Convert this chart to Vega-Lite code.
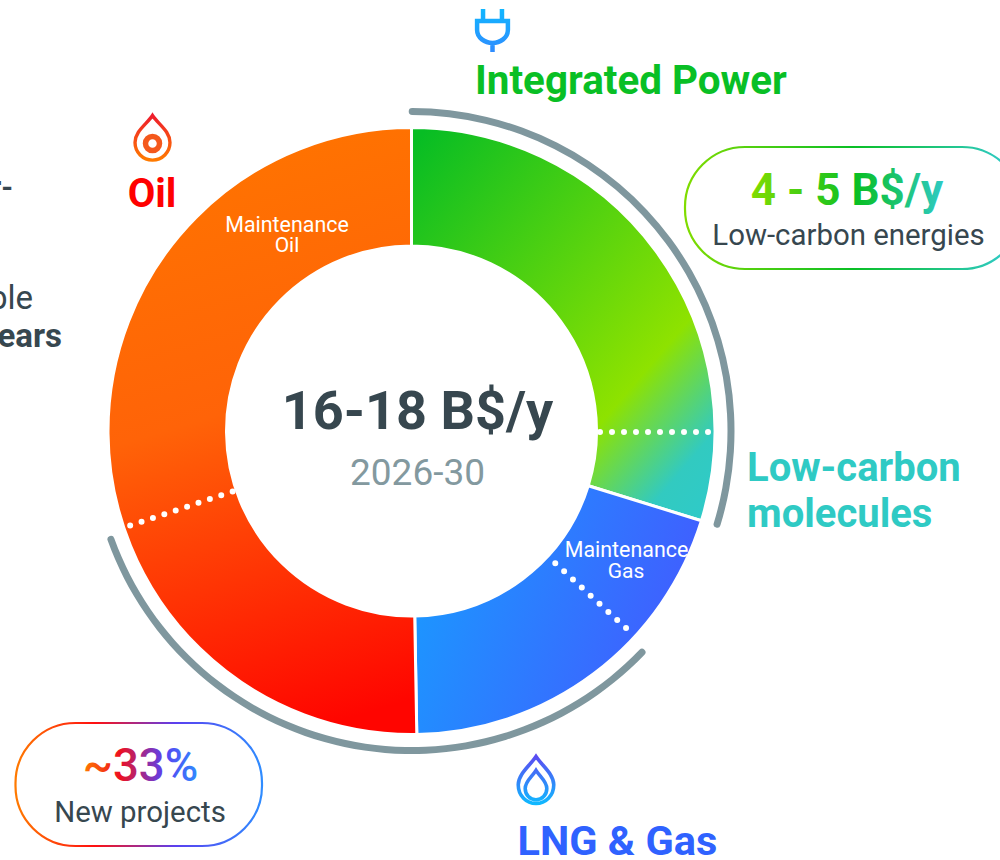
{
"$schema":"https://vega.github.io/schema/vega-lite/v6.json",
"width":1000,"height":860,"padding":0,"autosize":{"type":"none"},
"background":"white",
"view":{"stroke":null},
"config":{"axis":{"disable":true},"text":{"font":"Roboto"},"legend":{"disable":true}},
"datasets":{
"segments":[{"segment":"Low-carbon","start":0,"end":107.2},{"segment":"LNG & Gas","start":107.2,"end":179},{"segment":"Oil","start":179,"end":360}],
"splits":[{"name":"Low-carbon molecules","angle":90},{"name":"Oil maintenance","angle":251.6}],
"brackets":[{"name":"Low-carbon energies","start":-0.5,"end":107.6},{"name":"New projects","start":133.2,"end":250.8}]
},
"layer":[
{"data":{"name":"segments"},"transform":[{"filter":"datum.segment==='Low-carbon'"}],
 "mark":{"type":"arc","radius":303.5,"radius2":185,"stroke":"white","strokeWidth":3,"fill":{"gradient":"linear","x1":0.05,"y1":0,"x2":0.95,"y2":1,"stops":[{"offset":0,"color":"#07bd24"},{"offset":0.7,"color":"#8ee200"},{"offset":0.9,"color":"#32cac0"},{"offset":1,"color":"#2fcac8"}]}},
 "encoding":{"x":{"datum":411.5,"scale":{"domain":[0,1000],"range":[0,1000],"nice":false,"zero":false}},"y":{"datum":431,"scale":{"domain":[0,860],"range":[0,860],"nice":false,"zero":false}},"theta":{"field":"start","type":"quantitative","scale":{"domain":[0,360]}},"theta2":{"field":"end"}}},
{"data":{"name":"segments"},"transform":[{"filter":"datum.segment==='LNG & Gas'"}],
 "mark":{"type":"arc","radius":303.5,"radius2":185,"stroke":"white","strokeWidth":3,"fill":{"gradient":"linear","x1":0,"y1":0.35,"x2":1,"y2":0.65,"stops":[{"offset":0,"color":"#1b98ff"},{"offset":1,"color":"#4458ff"}]}},
 "encoding":{"x":{"datum":411.5},"y":{"datum":431},"theta":{"field":"start","type":"quantitative"},"theta2":{"field":"end"}}},
{"data":{"name":"segments"},"transform":[{"filter":"datum.segment==='Oil'"}],
 "mark":{"type":"arc","radius":303.5,"radius2":185,"stroke":"white","strokeWidth":3,"fill":{"gradient":"linear","x1":0.45,"y1":0,"x2":0.6,"y2":1,"stops":[{"offset":0,"color":"#ff7400"},{"offset":0.45,"color":"#ff6308"},{"offset":1,"color":"#ff0500"}]}},
 "encoding":{"x":{"datum":411.5},"y":{"datum":431},"theta":{"field":"start","type":"quantitative"},"theta2":{"field":"end"}}},
{"data":{"name":"splits"},
 "mark":{"type":"arc","radius":296.5,"radius2":188.5,"stroke":"white","strokeWidth":6,"strokeDash":[0,12],"strokeCap":"round","fill":null},
 "encoding":{"x":{"datum":411.5},"y":{"datum":432},"theta":{"field":"angle","type":"quantitative"},"theta2":{"field":"angle"}}},
{"data":{"values":[{"name":"Gas maintenance","angle":132.5}]},
 "mark":{"type":"arc","radius":291,"radius2":195,"stroke":"white","strokeWidth":6,"strokeDash":[0,12],"strokeCap":"round","fill":null},
 "encoding":{"x":{"datum":411.5},"y":{"datum":431.5},"theta":{"field":"angle","type":"quantitative"},"theta2":{"field":"angle"}}},
{"data":{"name":"brackets"},
 "mark":{"type":"arc","radius":323,"radius2":316,"cornerRadius":3.5,"fill":"#7f979e"},
 "encoding":{"x":{"datum":411.5},"y":{"datum":431},"theta":{"field":"start","type":"quantitative"},"theta2":{"field":"end"}}},
{"data":{"values":[{"box":"Low-carbon energies"}]},
 "mark":{"type":"rect","cornerRadius":60,"fill":"white","strokeWidth":2.2,"stroke":{"gradient":"linear","x1":0,"y1":0,"x2":1,"y2":0,"stops":[{"offset":0,"color":"#80dc00"},{"offset":0.5,"color":"#09bf25"},{"offset":0.95,"color":"#2fcac4"}]}},
 "encoding":{"x":{"datum":685},"x2":{"datum":1022},"y":{"datum":147},"y2":{"datum":269}}},
{"data":{"values":[{"box":"New projects"}]},
 "mark":{"type":"rect","cornerRadius":60,"fill":"white","strokeWidth":2.2,"stroke":{"gradient":"linear","x1":0,"y1":0,"x2":1,"y2":0,"stops":[{"offset":0,"color":"#ff7a00"},{"offset":0.32,"color":"#ff1010"},{"offset":0.65,"color":"#5a40f0"},{"offset":1,"color":"#2f8cff"}]}},
 "encoding":{"x":{"datum":15.5},"x2":{"datum":262},"y":{"datum":723},"y2":{"datum":846}}},
{"data":{"values":[{"icon":"plug"}]},
 "mark":{"type":"point","filled":false,"opacity":1,"size":1936,"strokeWidth":4.5,"shape":"M-0.43,-0.95 L-0.43,-0.41 M0.43,-0.95 L0.43,-0.41 M-0.7,-0.41 L0.7,-0.41 L0.7,0 C0.7,0.35 0.35,0.59 0,0.59 C-0.35,0.59 -0.7,0.35 -0.7,0 Z M0,0.59 L0,1","stroke":{"gradient":"linear","x1":0.5,"y1":0,"x2":0.5,"y2":1,"stops":[{"offset":0,"color":"#10b6ff"},{"offset":1,"color":"#2f8cff"}]}},
 "encoding":{"x":{"datum":492.5},"y":{"datum":30}}},
{"data":{"values":[{"icon":"oil drop"}]},
 "mark":{"type":"point","filled":false,"opacity":1,"size":2116,"strokeWidth":3.4,"shape":"M0,-0.98 C0.25,-0.6 0.76,-0.3 0.76,0.2 C0.76,0.62 0.42,0.96 0,0.96 C-0.42,0.96 -0.76,0.62 -0.76,0.2 C-0.76,-0.3 -0.25,-0.6 0,-0.98 Z","stroke":{"gradient":"linear","x1":0.5,"y1":0,"x2":0.5,"y2":1,"stops":[{"offset":0,"color":"#ee1c2c"},{"offset":1,"color":"#ff7a00"}]}},
 "encoding":{"x":{"datum":152.5},"y":{"datum":138}}},
{"data":{"values":[{"icon":"oil drop core"}]},
 "mark":{"type":"point","filled":false,"opacity":1,"size":196,"strokeWidth":5.5,"shape":"circle","stroke":"#f4581c"},
 "encoding":{"x":{"datum":152.5},"y":{"datum":143.5}}},
{"data":{"values":[{"icon":"gas flame"}]},
 "mark":{"type":"point","filled":false,"opacity":1,"size":2304,"strokeWidth":3.6,"shape":"M0,-0.98 C0.25,-0.6 0.74,-0.25 0.74,0.2 C0.74,0.66 0.4,0.98 0,0.98 C-0.4,0.98 -0.74,0.66 -0.74,0.2 C-0.74,-0.25 -0.25,-0.6 0,-0.98 Z M0,-0.4 C0.15,-0.15 0.45,0.05 0.45,0.35 C0.45,0.62 0.25,0.82 0,0.82 C-0.25,0.82 -0.45,0.62 -0.45,0.35 C-0.45,0.05 -0.15,-0.15 0,-0.4 Z","stroke":{"gradient":"linear","x1":0.5,"y1":0,"x2":0.5,"y2":1,"stops":[{"offset":0,"color":"#5a4cf2"},{"offset":1,"color":"#10b8ff"}]}},
 "encoding":{"x":{"datum":536},"y":{"datum":780}}},
{"data":{"values":[{"t":"Integrated Power"}]},"mark":{"type":"text","font":"Roboto","fontWeight":"bold","fontSize":40.4,"align":"left","baseline":"alphabetic","fill":"#09bf25"},"encoding":{"x":{"datum":475},"y":{"datum":94},"text":{"field":"t"}}},
{"data":{"values":[{"t":"Oil"}]},"mark":{"type":"text","font":"Roboto","fontWeight":"bold","fontSize":40,"align":"center","baseline":"alphabetic","fill":"#ff0000"},"encoding":{"x":{"datum":152},"y":{"datum":207},"text":{"field":"t"}}},
{"data":{"values":[{"t":"LNG & Gas"}]},"mark":{"type":"text","font":"Roboto","fontWeight":"bold","fontSize":41.5,"align":"left","baseline":"alphabetic","fill":"#2f62ff"},"encoding":{"x":{"datum":517.5},"y":{"datum":855},"text":{"field":"t"}}},
{"data":{"values":[{"t":"Low-carbon"}]},"mark":{"type":"text","font":"Roboto","fontWeight":"bold","fontSize":40,"align":"left","baseline":"alphabetic","fill":"#2fcac4"},"encoding":{"x":{"datum":747},"y":{"datum":481},"text":{"field":"t"}}},
{"data":{"values":[{"t":"molecules"}]},"mark":{"type":"text","font":"Roboto","fontWeight":"bold","fontSize":40,"align":"left","baseline":"alphabetic","fill":"#2fcac4"},"encoding":{"x":{"datum":747},"y":{"datum":527},"text":{"field":"t"}}},
{"data":{"values":[{"t":"16-18 B$/y"}]},"mark":{"type":"text","font":"Roboto","fontWeight":"bold","fontSize":54,"align":"center","baseline":"alphabetic","fill":"#37474f"},"encoding":{"x":{"datum":417.5},"y":{"datum":429},"text":{"field":"t"}}},
{"data":{"values":[{"t":"2026-30"}]},"mark":{"type":"text","font":"Roboto","fontSize":37,"align":"center","baseline":"alphabetic","fill":"#83999f"},"encoding":{"x":{"datum":417.5},"y":{"datum":485},"text":{"field":"t"}}},
{"data":{"values":[{"t":"Maintenance"}]},"mark":{"type":"text","font":"Roboto","fontSize":21.4,"align":"center","baseline":"alphabetic","fill":"white"},"encoding":{"x":{"datum":287},"y":{"datum":232},"text":{"field":"t"}}},
{"data":{"values":[{"t":"Oil"}]},"mark":{"type":"text","font":"Roboto","fontSize":21,"align":"center","baseline":"alphabetic","fill":"white"},"encoding":{"x":{"datum":287},"y":{"datum":252},"text":{"field":"t"}}},
{"data":{"values":[{"t":"Maintenance"}]},"mark":{"type":"text","font":"Roboto","fontSize":21.4,"align":"center","baseline":"alphabetic","fill":"white"},"encoding":{"x":{"datum":626.5},"y":{"datum":557},"text":{"field":"t"}}},
{"data":{"values":[{"t":"Gas"}]},"mark":{"type":"text","font":"Roboto","fontSize":21,"align":"center","baseline":"alphabetic","fill":"white"},"encoding":{"x":{"datum":626},"y":{"datum":578},"text":{"field":"t"}}},
{"data":{"values":[{"t":"4 - 5 B$/y"}]},"mark":{"type":"text","font":"Roboto","fontWeight":"bold","fontSize":44,"align":"center","baseline":"alphabetic","fill":{"gradient":"linear","x1":0,"y1":0,"x2":1,"y2":0,"stops":[{"offset":0,"color":"#80dc00"},{"offset":0.55,"color":"#09bf25"},{"offset":1,"color":"#2fcac4"}]}},"encoding":{"x":{"datum":847},"y":{"datum":205},"text":{"field":"t"}}},
{"data":{"values":[{"t":"Low-carbon energies"}]},"mark":{"type":"text","font":"Roboto","fontSize":29.4,"align":"center","baseline":"alphabetic","fill":"#37474f"},"encoding":{"x":{"datum":848.5},"y":{"datum":245},"text":{"field":"t"}}},
{"data":{"values":[{"t":"~33%"}]},"mark":{"type":"text","font":"Roboto","fontWeight":500,"fontSize":45.5,"align":"center","baseline":"alphabetic","fill":{"gradient":"linear","x1":0,"y1":0,"x2":1,"y2":0,"stops":[{"offset":0,"color":"#ff7a00"},{"offset":0.32,"color":"#ee1020"},{"offset":0.7,"color":"#5a40f0"},{"offset":1,"color":"#2f8cff"}]}},"encoding":{"x":{"datum":140.5},"y":{"datum":781},"text":{"field":"t"}}},
{"data":{"values":[{"t":"New projects"}]},"mark":{"type":"text","font":"Roboto","fontSize":29.4,"align":"center","baseline":"alphabetic","fill":"#37474f"},"encoding":{"x":{"datum":140},"y":{"datum":822},"text":{"field":"t"}}},
{"data":{"values":[{"t":"r-"}]},"mark":{"type":"text","font":"Roboto","fontWeight":"bold","fontSize":30,"align":"right","baseline":"alphabetic","fill":"#37474f"},"encoding":{"x":{"datum":13},"y":{"datum":197},"text":{"field":"t"}}},
{"data":{"values":[{"t":"ble"}]},"mark":{"type":"text","font":"Roboto","fontSize":33,"align":"right","baseline":"alphabetic","fill":"#37474f"},"encoding":{"x":{"datum":33},"y":{"datum":309},"text":{"field":"t"}}},
{"data":{"values":[{"t":"ears"}]},"mark":{"type":"text","font":"Roboto","fontWeight":"bold","fontSize":33,"align":"right","baseline":"alphabetic","fill":"#37474f"},"encoding":{"x":{"datum":62},"y":{"datum":347},"text":{"field":"t"}}}
]
}
